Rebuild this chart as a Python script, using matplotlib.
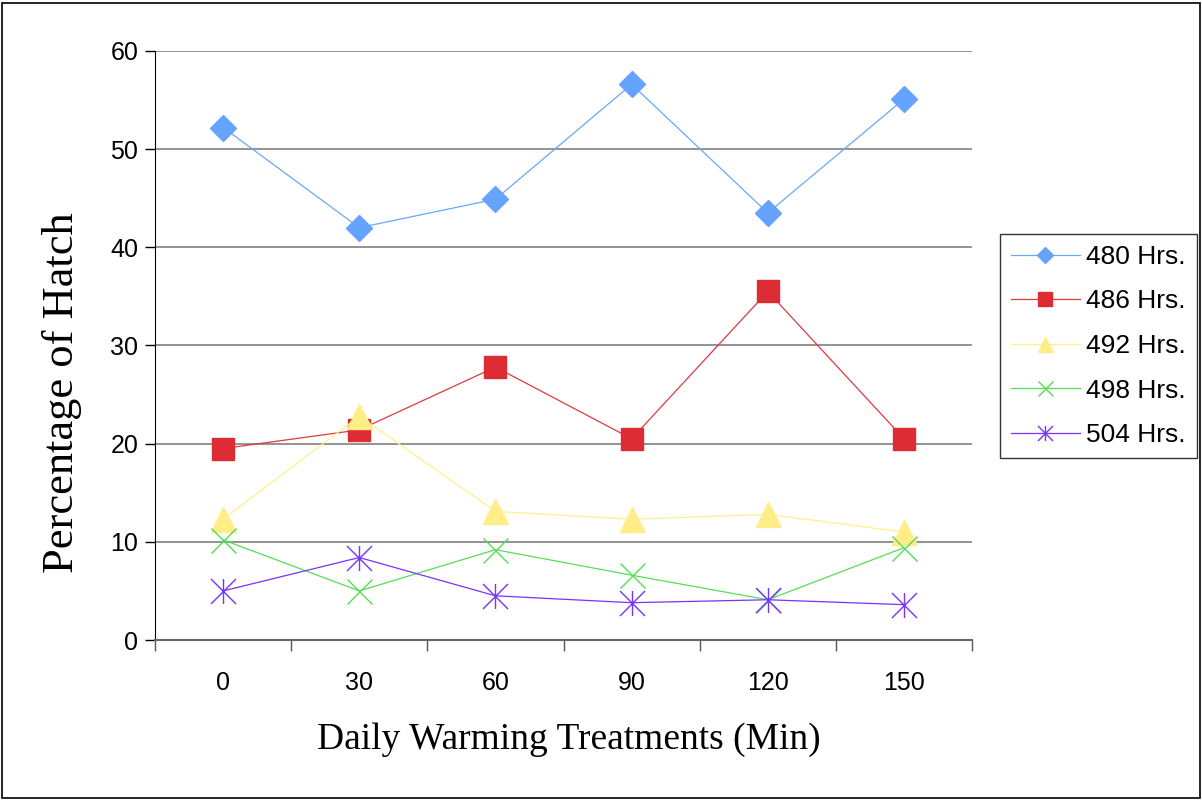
import matplotlib.pyplot as plt
from matplotlib.path import Path
from matplotlib.patches import Rectangle

# Hatch percentage by daily warming treatment
treatments = ["0", "30", "60", "90", "120", "150"]
hrs_480 = [52.2, 42.0, 44.9, 56.6, 43.5, 55.1]
hrs_486 = [19.5, 21.4, 27.8, 20.5, 35.5, 20.5]
hrs_492 = [12.3, 22.8, 13.1, 12.3, 12.8, 11.0]
hrs_498 = [10.2, 5.0, 9.2, 6.6, 4.1, 9.4]
hrs_504 = [5.0, 8.4, 4.5, 3.8, 4.1, 3.6]

# asterisk marker: diagonal cross plus a vertical stroke
star = Path([(-1, -1), (1, 1), (-1, 1), (1, -1), (0, -1), (0, 1)],
            [Path.MOVETO, Path.LINETO, Path.MOVETO, Path.LINETO, Path.MOVETO, Path.LINETO])

series = [
    ("480 Hrs.", hrs_480, "D", 13.2, "#66A3FF", "#6AA8F5"),
    ("486 Hrs.", hrs_486, "s", 16.5, "#DD2C33", "#E0393F"),
    ("492 Hrs.", hrs_492, "^", 18, "#FFEE88", "#FFF08A"),
    ("498 Hrs.", hrs_498, "x", 18, "#55DD55", "#55DD55"),
    ("504 Hrs.", hrs_504, star, 18, "#7733FF", "#7733FF"),
]

plt.rcParams['font.family'] = ['Liberation Sans', 'DejaVu Sans']

fig = plt.figure(figsize=(12.02, 8), dpi=100)
ax = fig.add_axes([0.129, 0.2, 0.6797, 0.7363])

x = list(range(len(treatments)))
for label, vals, mk, ms, mcol, lcol in series:
    ax.plot(x, vals, color=lcol, linewidth=0.9, marker=mk, markersize=ms,
            markerfacecolor=mcol, markeredgecolor=mcol, markeredgewidth=1.0,
            label=label, zorder=3)

ax.set_xlim(-0.5, len(treatments) - 0.5)
ax.set_ylim(0, 60)
ax.set_yticks(range(0, 61, 10))
ax.set_xticks([i - 0.5 for i in range(len(treatments) + 1)])
ax.set_xticklabels([])
ax.set_xticks(x, minor=True)
ax.set_xticklabels(treatments, minor=True)
ax.tick_params(axis='x', which='minor', length=0, pad=22, labelsize=18)
ax.tick_params(axis='x', which='major', length=8, width=1, color='#555555', direction='out')
ax.tick_params(axis='y', length=7, width=1, direction='out', labelsize=18, pad=5)

ax.yaxis.grid(True, color='#808080', linewidth=1.2)
ax.set_axisbelow(True)
for s in ['top', 'right']:
    ax.spines[s].set_visible(False)
ax.spines['left'].set_color('black')
ax.spines['bottom'].set_color('#666666')
ax.spines['bottom'].set_linewidth(1.5)

# axis titles placed as figure text
fig.text(0.4734, 0.075, "Daily Warming Treatments (Min)", family='Liberation Serif',
         fontsize=27, ha='center', va='center')
fig.text(0.0516, 0.509, "Percentage of Hatch", family='Liberation Serif',
         fontsize=32, ha='center', va='center', rotation=90)

leg = ax.legend(loc='center left', bbox_to_anchor=(1.034, 0.499), fontsize=19, frameon=True,
                fancybox=False, edgecolor='black', handlelength=2.6, labelspacing=0.78,
                borderpad=0.42, handletextpad=0.25, markerscale=0.6, borderaxespad=0)
leg.get_frame().set_linewidth(1.0)

fig.patches.append(Rectangle((0.002, 0.003), 0.996, 0.993, transform=fig.transFigure,
                             fill=False, edgecolor='black', linewidth=1.2))

fig.savefig("out.png", dpi=100)
